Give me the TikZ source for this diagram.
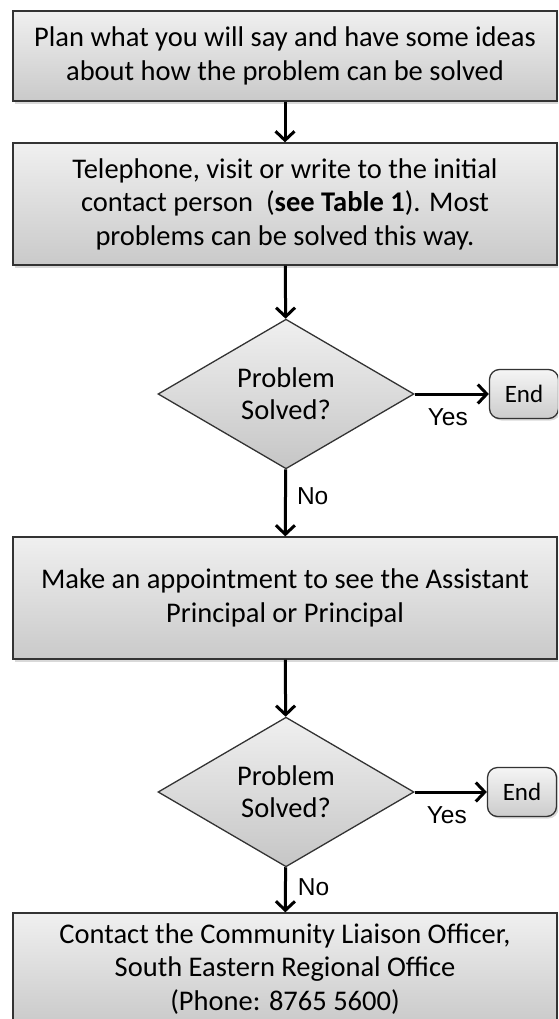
\documentclass[tikz,border=0pt]{standalone}
\usepackage{fontspec}
\setmainfont{Carlito}
\newfontfamily\arialfont{Liberation Sans}
\usetikzlibrary{calc,shapes.geometric,shadows,arrows.meta}

\tikzset{
  stepbox/.style={draw=black!80, line width=1.3pt, top color=gray!12, bottom color=gray!42,
    minimum width=544pt, inner sep=0pt, align=center,
    drop shadow={shadow xshift=2pt, shadow yshift=-3pt, opacity=0.3},
    font=\fontsize{28.5}{33.5}\selectfont},
  question/.style={diamond, draw=black!80, line width=1.3pt, top color=gray!12, bottom color=gray!45,
    minimum width=256pt, minimum height=138pt, inner sep=0pt, align=center,
    font=\fontsize{28.5}{32}\selectfont},
  endbox/.style={draw=black!80, line width=1.3pt, rounded corners=10pt, top color=gray!8, bottom color=gray!40,
    minimum width=69pt, minimum height=49pt, inner sep=0pt,
    drop shadow={shadow xshift=2pt, shadow yshift=-2pt, opacity=0.3},
    font=\fontsize{25}{28}\selectfont},
  flow/.style={->, >={Straight Barb[length=9pt,width=19pt,line width=3pt]}, line width=3pt},
  answer/.style={font=\arialfont\fontsize{24.5}{27}\selectfont, inner sep=2pt}
}

\begin{document}
\begin{tikzpicture}[x=1pt,y=-1pt]
  \useasboundingbox (0,0) rectangle (558,1019);
  \clip (0,0) rectangle (558,1019);

  % steps
  \node[stepbox, minimum height=90pt] (plan) at (285,56)
    {Plan what you will say and have some ideas\\about how the problem can be solved};
  \node[stepbox, minimum height=122pt] (phone) at (285,204)
    {Telephone, visit or write to the initial\\contact person~~(\textbf{see Table 1}). Most\\problems can be solved this way.};
  \node[question] (solvedA) at (286,394) {Problem\\Solved?};
  \node[endbox] (endA) at (524,394) {End};
  \node[stepbox, minimum height=122pt] (appt) at (285,598)
    {Make an appointment to see the Assistant\\Principal or Principal};
  \node[question] (solvedB) at (286,792) {Problem\\Solved?};
  \node[endbox] (endB) at (522,792) {End};
  \node[stepbox, minimum height=112pt] (contact) at (285,969)
    {Contact the Community Liaison Officer,\\South Eastern Regional Office\\(Phone: 8765 5600)};

  % connectors
  \draw[flow] (plan) -- (phone);
  \draw[flow] (phone) -- (solvedA);
  \draw[flow] (solvedA) -- node[answer, below=11pt, xshift=-4pt] {Yes} (endA);
  \draw[flow] (solvedA) -- node[answer, right=8pt, pos=0.4] {No} (appt);
  \draw[flow] (appt) -- (solvedB);
  \draw[flow] (solvedB) -- node[answer, below=11pt, xshift=-4pt] {Yes} (endB);
  \draw[flow] (solvedB) -- node[answer, right=9pt, pos=0.45] {No} (contact);
\end{tikzpicture}
\end{document}
